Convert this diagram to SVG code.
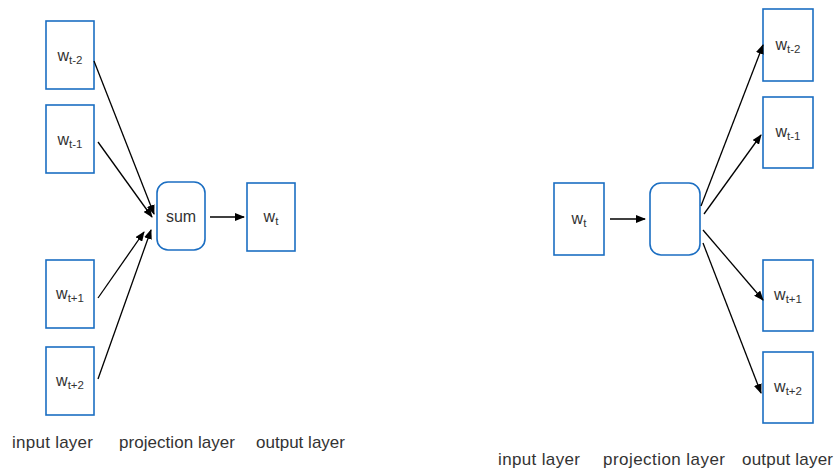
<svg xmlns="http://www.w3.org/2000/svg" width="837" height="471" viewBox="0 0 837 471">
<style>
.box{fill:#fff;stroke:#1b6ec2;stroke-width:1.6}
.lbl{font-family:"Liberation Sans",Arial,sans-serif;font-size:16px;fill:#333;text-anchor:middle}
.sub{font-size:11.5px}
.cap{font-family:"Liberation Sans",Arial,sans-serif;font-size:17px;fill:#333}
.conn line{stroke:#000;stroke-width:1.3;marker-end:url(#ah)}
</style>
<defs>
<marker id="ah" markerUnits="userSpaceOnUse" markerWidth="10" markerHeight="8" refX="9" refY="4" orient="auto">
<path d="M0,0 L10,4 L0,8 Z" fill="#000"/>
</marker>
</defs>
<rect width="837" height="471" fill="#fff"/>
<!-- left: CBOW -->
<g id="l-wt-2"><rect class="box" x="46" y="21" width="48" height="68"/><text class="lbl" x="70" y="61">w<tspan class="sub" dy="3">t-2</tspan></text></g>
<g id="l-wt-1"><rect class="box" x="46" y="105" width="48" height="68"/><text class="lbl" x="70" y="145">w<tspan class="sub" dy="3">t-1</tspan></text></g>
<g id="l-wt+1"><rect class="box" x="46" y="260" width="48" height="68"/><text class="lbl" x="70" y="299">w<tspan class="sub" dy="3">t+1</tspan></text></g>
<g id="l-wt+2"><rect class="box" x="46" y="347" width="48" height="68"/><text class="lbl" x="70" y="386">w<tspan class="sub" dy="3">t+2</tspan></text></g>
<g id="l-sum"><rect class="box" x="157" y="182" width="48" height="68" rx="11"/><text class="lbl" x="181" y="222">sum</text></g>
<g id="l-wt"><rect class="box" x="247" y="183" width="48" height="68"/><text class="lbl" x="271" y="222">w<tspan class="sub" dy="3">t</tspan></text></g>
<!-- right: skip-gram -->
<g id="r-wt"><rect class="box" x="554" y="183" width="50" height="72"/><text class="lbl" x="579" y="224">w<tspan class="sub" dy="3">t</tspan></text></g>
<g id="r-proj"><rect class="box" x="650" y="183" width="50" height="72" rx="11"/></g>
<g id="r-wt-2"><rect class="box" x="763" y="9" width="50" height="72"/><text class="lbl" x="788" y="50">w<tspan class="sub" dy="3">t-2</tspan></text></g>
<g id="r-wt-1"><rect class="box" x="763" y="97" width="50" height="71"/><text class="lbl" x="788" y="137">w<tspan class="sub" dy="3">t-1</tspan></text></g>
<g id="r-wt+1"><rect class="box" x="763" y="260" width="50" height="71"/><text class="lbl" x="788" y="300">w<tspan class="sub" dy="3">t+1</tspan></text></g>
<g id="r-wt+2"><rect class="box" x="763" y="352" width="50" height="71"/><text class="lbl" x="788" y="392">w<tspan class="sub" dy="3">t+2</tspan></text></g>
<g id="connectors" class="conn">
<line x1="94" y1="61" x2="154" y2="214"/>
<line x1="98" y1="142" x2="152" y2="217"/>
<line x1="98" y1="298" x2="144" y2="232"/>
<line x1="98" y1="379" x2="151" y2="230"/>
<line x1="210" y1="217" x2="244" y2="217"/>
<line x1="610" y1="219" x2="645" y2="219"/>
<line x1="701" y1="206" x2="763" y2="45"/>
<line x1="704" y1="214" x2="761" y2="135"/>
<line x1="703" y1="230" x2="763" y2="300"/>
<line x1="703" y1="243" x2="761" y2="393"/>
</g>
<g id="captions">
<text class="cap" x="12" y="448" textLength="81">input layer</text>
<text class="cap" x="119" y="448" textLength="116">projection layer</text>
<text class="cap" x="256" y="448" textLength="89">output layer</text>
<text class="cap" x="498" y="465" textLength="82">input layer</text>
<text class="cap" x="603" y="465" textLength="122">projection layer</text>
<text class="cap" x="742" y="465" textLength="91">output layer</text>
</g>
</svg>
